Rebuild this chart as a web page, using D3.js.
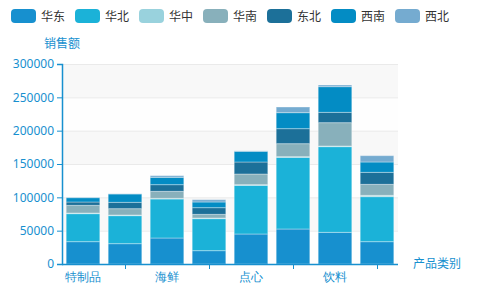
<!DOCTYPE html>
<html><head><meta charset="utf-8">
<script src="https://cdn.jsdelivr.net/npm/d3@7"></script>
<style>body{margin:0;background:#fff}svg{display:block;font-family:"Noto Sans CJK SC","Noto Sans",sans-serif}</style>
</head><body><svg id="c" width="481" height="296"></svg>
<script>
const categories = ["特制品","日用品","海鲜","谷类/麦片","点心","调味品","饮料","肉/家禽"];
const seriesNames = ["华东","华北","华中","华南","东北","西南","西北"];
const huadong = [33500,30500,39000,20000,45000,52500,47500,33500];
const huabei  = [42000,42000,58500,48000,73000,107500,128500,67500];
const huazhong= [1000,1000,1000,1000,1000,1000,1000,2000];
const huanan  = [11500,9500,10500,5500,16000,19500,35000,16500];
const dongbei = [5000,9500,10000,10000,18000,22500,15500,18000];
const xinan   = [6500,12500,11000,8500,16000,24000,38500,15500];
const xibei   = [500,300,2500,3500,700,8500,2500,9500];
const yTicks = [0,50000,100000,150000,200000,250000,300000];
const colors = ["#1790cf","#1bb2d8","#99d2dd","#88b0bb","#1c7099","#038cc4","#75abd0"];

const seriesValues = [huadong,huabei,huazhong,huanan,dongbei,xinan,xibei];
const rows = categories.map((c,i)=>{const r={cat:c};seriesNames.forEach((s,j)=>r[s]=seriesValues[j][i]);return r;});
const stack = d3.stack().keys(seriesNames)(rows);

const svg = d3.select("#c");
const L=62,R=398,T=64,B=264;
const x = d3.scaleBand().domain(categories).range([L,R]).paddingInner(0.2).paddingOuter(0.1);
const y = d3.scaleLinear().domain([0,300000]).range([B,T]);
const blue="#1790cf";

// split areas
const bands = yTicks.slice(0,-1).map((v,i)=>[v,yTicks[i+1],i]);
svg.append("g").selectAll("rect").data(bands).join("rect")
  .attr("x",L).attr("width",R-L).attr("y",d=>y(d[1])).attr("height",d=>y(d[0])-y(d[1]))
  .attr("fill",d=>d[2]%2===1?"#f8f8f8":"#fefefe");
// grid lines
svg.append("g").selectAll("line").data(yTicks.slice(1)).join("line")
  .attr("x1",L).attr("x2",R).attr("y1",d=>y(d)+0.5).attr("y2",d=>y(d)+0.5)
  .attr("stroke","#eaeaea");

// bars
svg.append("g").selectAll("g").data(stack).join("g").attr("fill",(d,i)=>colors[i])
  .selectAll("rect").data(d=>d).join("rect")
  .attr("x",d=>x(d.data.cat)).attr("width",x.bandwidth())
  .attr("y",d=>y(d[1])).attr("height",d=>Math.max(0,y(d[0])-y(d[1])))
  .attr("stroke","rgba(255,255,255,0.35)").attr("stroke-width",1);

// y axis
const yAxis = svg.append("g").attr("transform",`translate(${L},0)`)
  .call(d3.axisLeft(y).tickValues(yTicks).tickSize(5).tickPadding(3).tickFormat(d3.format("d")));
yAxis.select(".domain").attr("stroke",blue).attr("stroke-width",1.5);
yAxis.selectAll(".tick line").attr("stroke",blue);
yAxis.selectAll("text").attr("fill",blue).attr("font-size",12).style("font-family","'Noto Sans','Noto Sans CJK SC',sans-serif");

// x axis
const xAxis = svg.append("g").attr("transform",`translate(0,${B})`)
  .call(d3.axisBottom(x).tickSize(0).tickSizeOuter(0).tickPadding(8).tickFormat((d,i)=>i%2===0?d:""));
xAxis.select(".domain").attr("stroke",blue).attr("stroke-width",1.5).attr("d",`M${L},0.5H${R}`);
xAxis.selectAll("text").attr("fill",blue).attr("font-size",12);
xAxis.append("g").selectAll("line").data(categories.filter((d,i)=>i%2===1)).join("line")
  .attr("x1",d=>x(d)+x.bandwidth()/2+0.5).attr("x2",d=>x(d)+x.bandwidth()/2+0.5)
  .attr("y1",0).attr("y2",5).attr("stroke",blue);

// axis names
svg.append("text").attr("x",L).attr("y",48).attr("text-anchor","middle").attr("fill",blue).attr("font-size",12).text("销售额");
svg.append("text").attr("x",413).attr("y",268).attr("fill",blue).attr("font-size",12).text("产品类别");

// legend
const lg = svg.append("g").selectAll("g").data(seriesNames).join("g")
  .attr("transform",(d,i)=>`translate(${11+i*64},9)`);
lg.append("rect").attr("width",25).attr("height",14).attr("rx",4).attr("fill",(d,i)=>colors[i]);
lg.append("text").attr("x",30).attr("y",12).attr("font-size",12).attr("fill","#333").text(d=>d);
</script></body></html>
